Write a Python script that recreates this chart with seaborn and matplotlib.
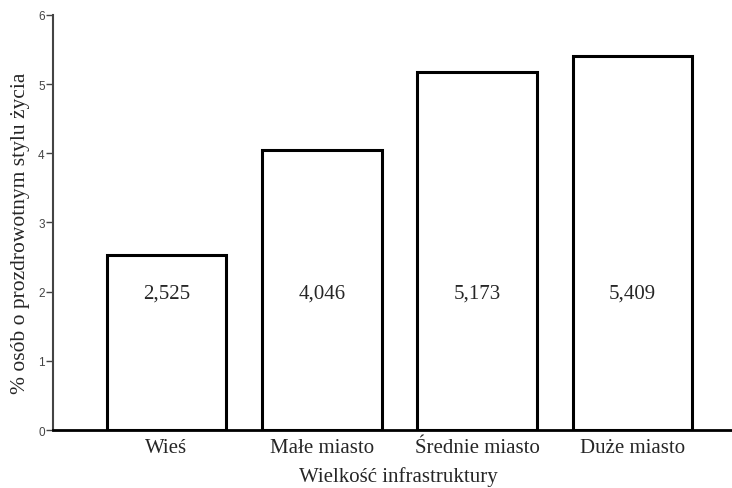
import matplotlib
matplotlib.use('Agg')
import matplotlib.pyplot as plt
import seaborn as sns
import pandas as pd

kategorie = ['Wieś', 'Małe miasto', 'Średnie miasto', 'Duże miasto']
wartosci = [2.525, 4.046, 5.173, 5.409]
etykiety = ['2,525', '4,046', '5,173', '5,409']

df = pd.DataFrame({'kat': kategorie, 'val': wartosci})

sns.set_style('ticks')
plt.rcParams['font.family'] = ['Liberation Serif', 'DejaVu Serif']

fig = plt.figure(figsize=(7.32, 4.89), dpi=100)
ax = fig.add_axes([0.0724, 0.1186, 0.9276, 0.8487])

sns.barplot(x='kat', y='val', data=df, color='white', edgecolor='black',
            linewidth=2.2, width=0.77, ax=ax)

# etykiety wewnatrz slupkow, mniej wiecej na wysokosci 2
for p, t in zip(ax.patches, etykiety):
    ax.text(p.get_x() + p.get_width() / 2, 1.98, t, ha='center', va='center',
            fontsize=15)

ax.set_xlim(-0.73, 3.64)
ax.set_ylim(0, 6)
ax.set_yticks(range(0, 7))
ax.set_xlabel('Wielkość infrastruktury', fontsize=15)
ax.set_ylabel('% osób o prozdrowotnym stylu życia', fontsize=15.5)
ax.xaxis.set_label_coords(0.508, -0.088)
ax.yaxis.set_label_coords(-0.034, 0.477)

sns.despine(ax=ax)
ax.spines['left'].set_color('#444444')
ax.spines['left'].set_linewidth(1.5)
ax.spines['bottom'].set_linewidth(2)
ax.spines['bottom'].set_color('black')

ax.tick_params(axis='x', length=0, labelsize=15, pad=6)
ax.tick_params(axis='y', length=5, width=1, color='#444444', pad=1)
for lab in ax.get_yticklabels():
    lab.set_family(['Liberation Sans', 'DejaVu Sans'])
    lab.set_fontsize(8.5)
    lab.set_color('#444444')

fig.savefig('out.png', dpi=100)
